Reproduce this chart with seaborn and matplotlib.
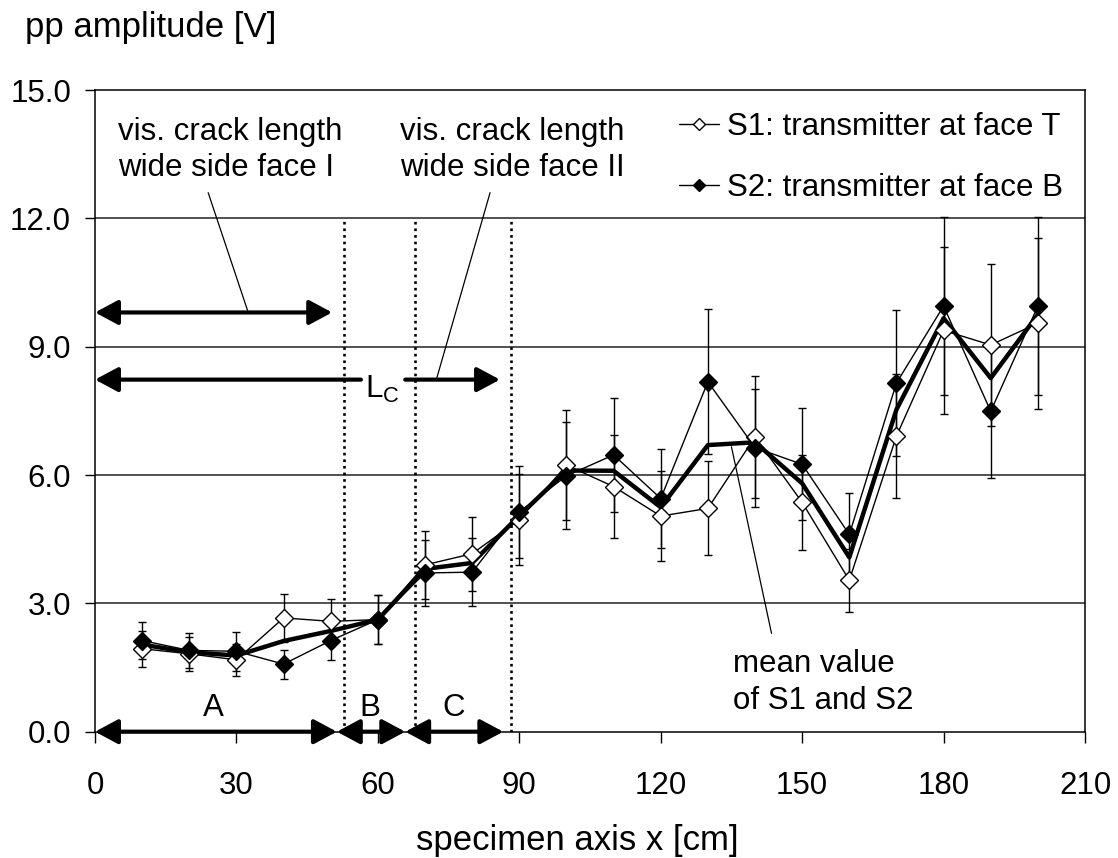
import numpy as np
import pandas as pd
import seaborn as sns
import matplotlib
matplotlib.use("Agg")
import matplotlib.pyplot as plt
from matplotlib.lines import Line2D
from matplotlib.patches import FancyArrowPatch

# ---------------- data ----------------
x_pos = [10, 20, 30, 40, 50, 60, 70, 80, 90, 100, 110, 120, 130, 140, 150, 160, 170, 180, 190, 200]
s1_vals = [1.94, 1.82, 1.68, 2.66, 2.58, 2.62, 3.90, 4.16, 4.96, 6.23, 5.73, 5.04, 5.22, 6.89, 5.36, 3.54, 6.91, 9.38, 9.04, 9.55]
s2_vals = [2.13, 1.90, 1.88, 1.58, 2.13, 2.62, 3.71, 3.73, 5.14, 5.98, 6.47, 5.45, 8.18, 6.64, 6.25, 4.61, 8.15, 9.95, 7.49, 9.95]
s1_err = [0.42, 0.40, 0.37, 0.56, 0.53, 0.57, 0.80, 0.86, 1.06, 1.29, 1.21, 1.06, 1.10, 1.42, 1.11, 0.74, 1.45, 1.96, 1.90, 2.00]
s2_err = [0.43, 0.40, 0.45, 0.34, 0.45, 0.57, 0.76, 0.80, 1.07, 1.25, 1.34, 1.15, 1.70, 1.38, 1.31, 0.97, 1.70, 2.08, 1.57, 2.08]
mean_vals = [(a + b) / 2 for a, b in zip(s1_vals, s2_vals)]

series_labels = ["S1: transmitter at face T", "S2: transmitter at face B"]
x_ticks = [0, 30, 60, 90, 120, 150, 180, 210]
y_ticks = [0.0, 3.0, 6.0, 9.0, 12.0, 15.0]
zone_bounds = [0, 51.3, 65.8, 86.6]          # A, B, C arrows
zone_names = ["A", "B", "C"]
zone_label_x = [25.1, 58.3, 76.0]
dotted_x = [52.8, 67.9, 88.2]

sns.set_theme(style="white")
plt.rcParams['font.family'] = ['Liberation Sans', 'DejaVu Sans']
plt.rcParams['text.color'] = 'black'
plt.rcParams['xtick.color'] = 'black'
plt.rcParams['ytick.color'] = 'black'
plt.rcParams['axes.labelcolor'] = 'black'
FS = 22.5
FS_TITLE = 25

fig = plt.figure(figsize=(11.18, 8.58), dpi=100)
ax = fig.add_axes([0.085, 0.1472, 0.8855, 0.7479])

# grid lines
for yv in y_ticks[1:-1]:
    ax.axhline(yv, color='#222222', lw=1.1, zorder=0)

# dotted vertical lines
for xv in dotted_x:
    ax.plot([xv, xv], [0, 12], color='black', lw=1.9, linestyle=(0, (1, 1.5)), zorder=1)

# error bars
ax.errorbar(x_pos, s1_vals, yerr=s1_err, fmt='none', ecolor='black', elinewidth=1.0, capsize=3, capthick=1.0, zorder=2)
ax.errorbar(x_pos, s2_vals, yerr=s2_err, fmt='none', ecolor='black', elinewidth=1.0, capsize=3, capthick=1.0, zorder=2)

df = pd.DataFrame({"x": x_pos, "S1": s1_vals, "S2": s2_vals, "mean": mean_vals})

sns.lineplot(data=df, x="x", y="S1", ax=ax, color='black', lw=1.0, marker='D', markersize=9.5,
             markerfacecolor='white', markeredgecolor='black', markeredgewidth=1.0, zorder=4, legend=False)
sns.lineplot(data=df, x="x", y="S2", ax=ax, color='black', lw=1.0, marker='D', markersize=9.5,
             markerfacecolor='black', markeredgecolor='black', markeredgewidth=1.0, zorder=5, legend=False)
sns.lineplot(data=df, x="x", y="mean", ax=ax, color='black', lw=3.2, zorder=3, legend=False)

ax.set_xlim(0, 210)
ax.set_ylim(0, 15)
ax.set_xticks(x_ticks)
ax.set_yticks(y_ticks)
ax.set_yticklabels([f"{v:.1f}" for v in y_ticks])
ax.tick_params(axis='x', direction='out', length=8, width=1, pad=20.5, labelsize=FS, colors='black', bottom=True)
ax.tick_params(axis='y', direction='out', length=7, width=1, pad=10.3, labelsize=FS, colors='black', left=True)
ax.set_xlabel("")
ax.set_ylabel("")
for sp in ax.spines.values():
    sp.set_color('black')
    sp.set_linewidth(1.1)
    sp.set_visible(True)

fig.text(0.0225, 0.968, "pp amplitude [V]", fontsize=FS_TITLE, ha='left', va='center')
fig.text(0.5165, 0.0093, "specimen axis x [cm]", fontsize=FS_TITLE, ha='center', va='baseline')

# legend
handles = [
    Line2D([], [], color='black', lw=1.0, marker='D', markersize=6, markerfacecolor='white', markeredgecolor='black'),
    Line2D([], [], color='black', lw=1.0, marker='D', markersize=6, markerfacecolor='black', markeredgecolor='black'),
]
ax.legend(handles, series_labels, loc='upper right', bbox_to_anchor=(1.0, 1.0), frameon=False,
          fontsize=FS, handlelength=1.3, handletextpad=0.25, labelspacing=0.98, borderaxespad=0.3)

def arrow(x0, y0, x1, y1, style):
    p = FancyArrowPatch((x0, y0), (x1, y1), arrowstyle=style + ",head_length=14,head_width=7.5",
                        mutation_scale=1, lw=3, color='black', shrinkA=0, shrinkB=0,
                        clip_on=False, zorder=6)
    ax.add_patch(p)

# zone arrows at bottom
for i, name in enumerate(zone_names):
    arrow(zone_bounds[i], 0, zone_bounds[i + 1], 0, '<|-|>')
    ax.text(zone_label_x[i], 0.55, name, fontsize=FS, ha='center', va='center')

# crack-length arrows
arrow(0, 9.8, 50.3, 9.8, '<|-|>')
arrow(0, 8.23, 56.4, 8.23, '<|-')
arrow(65.8, 8.23, 85.9, 8.23, '-|>')
ax.text(61.0, 8.0, r"L$_\mathregular{C}$", fontsize=FS, ha='center', va='center')

# annotations
ax.text(4.9, 13.6, "vis. crack length\nwide side face I", fontsize=FS, ha='left', va='center', linespacing=1.28)
ax.text(64.7, 13.6, "vis. crack length\nwide side face II", fontsize=FS, ha='left', va='center', linespacing=1.28)
ax.plot([24.0, 32.5], [12.6, 9.8], color='black', lw=0.9, zorder=6)
ax.plot([83.8, 72.4], [12.6, 8.23], color='black', lw=0.9, zorder=6)

ax.text(135.3, 1.15, "mean value\nof S1 and S2", fontsize=FS, ha='left', va='center', linespacing=1.28)
ax.plot([135.0, 143.5], [6.66, 2.3], color='black', lw=0.9, zorder=6)

fig.savefig("out.png", dpi=100, facecolor='white')
